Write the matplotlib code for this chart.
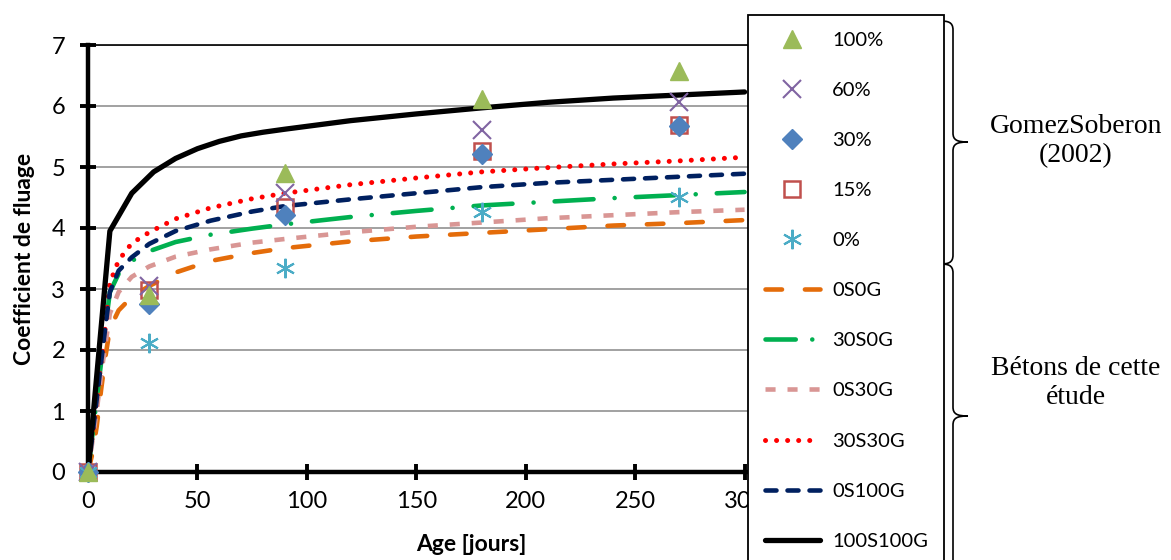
import numpy as np
import matplotlib
matplotlib.use("Agg")
import matplotlib.pyplot as plt
from matplotlib.path import Path
from matplotlib.patches import PathPatch
from matplotlib.lines import Line2D

plt.rcParams['font.family'] = ['Lato', 'DejaVu Sans']

# GomezSoberon (2002) measured points
ages_pts = [0, 28, 90, 180, 270]
p100 = [0, 2.90, 4.90, 6.12, 6.57]
p60 = [0, 3.05, 4.58, 5.60, 6.07]
p30 = [0, 2.75, 4.21, 5.21, 5.67]
p15 = [0, 2.98, 4.35, 5.26, 5.69]
p0 = [0, 2.12, 3.34, 4.27, 4.51]

# creep curves of this study
ages_fit = [0, 2, 4, 6, 8, 10, 14, 20, 28, 40, 56, 75, 90, 120, 150, 180, 210, 240, 270, 300]
c_0S0G = [0, 0.3, 0.75, 1.35, 1.9, 2.35, 2.65, 2.87, 3.05, 3.27, 3.46, 3.59, 3.67, 3.78, 3.86, 3.92, 3.98, 4.04, 4.08, 4.13]
c_30S0G = [0, 0.6, 1.2, 1.8, 2.4, 2.95, 3.25, 3.46, 3.62, 3.77, 3.89, 3.99, 4.06, 4.18, 4.28, 4.37, 4.43, 4.49, 4.54, 4.59]
c_0S30G = [0, 0.5, 1.0, 1.6, 2.1, 2.6, 2.95, 3.2, 3.37, 3.53, 3.65, 3.76, 3.82, 3.93, 4.02, 4.09, 4.16, 4.21, 4.26, 4.30]
c_30S30G = [0, 0.6, 1.2, 1.8, 2.4, 3.1, 3.47, 3.75, 3.93, 4.15, 4.33, 4.48, 4.57, 4.71, 4.82, 4.92, 4.99, 5.05, 5.10, 5.16]
c_0S100G = [0, 0.6, 1.2, 1.8, 2.4, 2.95, 3.3, 3.52, 3.74, 3.95, 4.12, 4.27, 4.36, 4.47, 4.57, 4.67, 4.74, 4.79, 4.84, 4.89]
ages_black = [0, 10, 20, 30, 40, 50, 60, 70, 80, 90, 120, 150, 180, 210, 240, 270, 300]
c_100S100G = [0, 3.95, 4.57, 4.92, 5.14, 5.30, 5.42, 5.51, 5.57, 5.62, 5.76, 5.87, 5.97, 6.06, 6.13, 6.18, 6.23]

W, H = 1171, 560
fig = plt.figure(figsize=(W / 100, H / 100), dpi=100)
ax = fig.add_axes([88 / W, 1 - 472 / H, (854 - 88) / W, (472 - 45) / H])

lw = 3.3
l1, = ax.plot(ages_fit, c_0S0G, color='#E46C0A', lw=lw, dashes=(3.6, 5.0), dash_capstyle='round', label='0S0G')
l2, = ax.plot(ages_fit, c_30S0G, color='#00B050', lw=lw, dashes=(8.5, 4.6, 0.01, 4.6), dash_capstyle='round', label='30S0G')
l3, = ax.plot(ages_fit, c_0S30G, color='#D99694', lw=lw, dashes=(2.2, 2.6), dash_capstyle='butt', label='0S30G')
l4, = ax.plot(ages_fit, c_30S30G, color='#FF0000', lw=3.6, dashes=(0.01, 2.2), dash_capstyle='round', label='30S30G')
l5, = ax.plot(ages_fit, c_0S100G, color='#002060', lw=lw, dashes=(2.4, 2.4), dash_capstyle='round', label='0S100G')
l6, = ax.plot(ages_black, c_100S100G, color='black', lw=3.8, solid_capstyle='round', label='100S100G')

m15, = ax.plot(ages_pts, p15, ls='none', marker='s', ms=12, mfc='none', mec='#C0504D', mew=1.8, label='15%', clip_on=False)
m30, = ax.plot(ages_pts, p30, ls='none', marker='D', ms=10, color='#4F81BD', label='30%', clip_on=False)
m0, = ax.plot(ages_pts, p0, ls='none', marker=(6, 2, 0), ms=14, mec='#4BACC6', mew=1.5, label='0%', clip_on=False)
m60, = ax.plot(ages_pts, p60, ls='none', marker='x', ms=13, mec='#8064A2', mew=1.5, label='60%', clip_on=False)
m100, = ax.plot(ages_pts, p100, ls='none', marker='^', ms=13, color='#9BBB59', label='100%', clip_on=False)
for m in [m15, m30, m0, m60, m100]:
    m.set_zorder(5)

ax.set_xlim(0, 350)
ax.set_ylim(0, 7)
ax.set_xticks(np.arange(0, 351, 50))
ax.set_yticks(np.arange(0, 8, 1))
ax.yaxis.grid(True, color='#9A9A9A', lw=1.3)
ax.set_axisbelow(True)
ax.spines['right'].set_visible(False)
ax.spines['top'].set_linewidth(1.2)
ax.spines['left'].set_linewidth(3.2)
ax.spines['bottom'].set_linewidth(3.2)
ax.tick_params(axis='both', direction='inout', length=11, width=2.8, labelsize=17)
ax.tick_params(axis='x', pad=8)
ax.tick_params(axis='y', pad=11)
ax.set_xlabel('Age [jours]', fontsize=16.5, fontweight='bold', labelpad=16)
ax.set_ylabel('Coefficient de fluage', fontsize=16.5, fontweight='bold', labelpad=12)

# legend-only handle so the dash-dot pattern shows its dot in the short sample
l2_leg = Line2D([], [], color='#00B050', lw=lw, dashes=(6.6, 3.6, 0.01, 5), dash_capstyle='round')

handles = [m100, m60, m30, m15, m0, l1, l2_leg, l3, l4, l5, l6]
labels = ['100%', '60%', '30%', '15%', '0%', '0S0G', '30S0G', '0S30G', '30S30G', '0S100G', '100S100G']
leg = fig.legend(handles, labels, loc='upper left',
                 bbox_to_anchor=(748 / W, 1 - 15 / H), bbox_transform=fig.transFigure,
                 borderaxespad=0, fontsize=14.5, numpoints=1, handlelength=2.75,
                 handletextpad=0.6, labelspacing=1.64, borderpad=0.82, frameon=True,
                 fancybox=False, framealpha=1, edgecolor='black')
leg.get_frame().set_linewidth(1.3)
leg.set_zorder(10)


def brace(y_top, y_mid, y_bot):
    def p(x, y):
        return (x / W, 1 - y / H)
    verts = [p(940, y_top), p(948, y_top), p(953, y_top + 1), p(953, y_top + 9),
             p(953, y_mid - 9),
             p(953, y_mid - 2), p(957, y_mid), p(968, y_mid),
             p(957, y_mid), p(953, y_mid + 2), p(953, y_mid + 9),
             p(953, y_bot - 9),
             p(953, y_bot - 1), p(948, y_bot), p(940, y_bot)]
    codes = [Path.MOVETO, Path.CURVE4, Path.CURVE4, Path.CURVE4,
             Path.LINETO,
             Path.CURVE4, Path.CURVE4, Path.CURVE4,
             Path.CURVE4, Path.CURVE4, Path.CURVE4,
             Path.LINETO,
             Path.CURVE4, Path.CURVE4, Path.CURVE4]
    fig.patches.append(PathPatch(Path(verts, codes), transform=fig.transFigure,
                                 fill=False, lw=1.2, edgecolor='black'))


brace(21, 142, 264)
brace(264, 416, 600)

fig.text(1076 / W, 1 - 141 / H, 'GomezSoberon\n(2002)', ha='center', va='center',
         multialignment='center', fontsize=20, family='Liberation Serif', linespacing=1.25)
fig.text(1076 / W, 1 - 383 / H, 'Bétons de cette\nétude', ha='center', va='center',
         multialignment='center', fontsize=20, family='Liberation Serif', linespacing=1.25)

fig.savefig('out.png', dpi=100)
